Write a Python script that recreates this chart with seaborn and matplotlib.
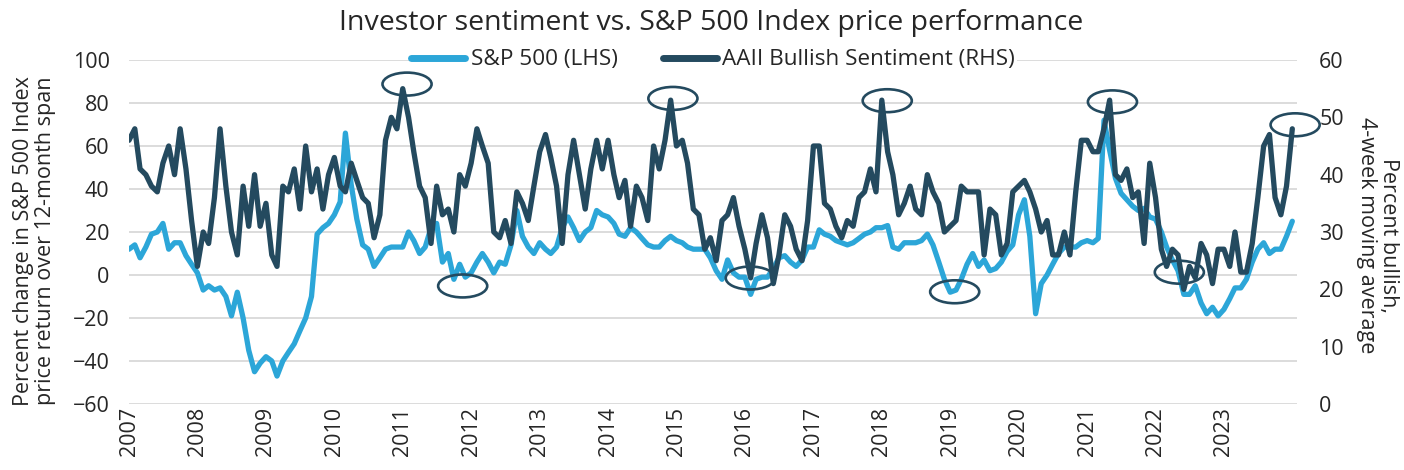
"""
Investor sentiment vs. S&P 500 Index price performance.

Twin-axis line chart: S&P 500 12-month price change (LHS) against
AAII bullish sentiment, 4-week moving average (RHS).
"""

import matplotlib
matplotlib.use('Agg')
import matplotlib.pyplot as plt
import matplotlib.dates as mdates
from matplotlib.lines import Line2D
from matplotlib.patches import Ellipse
import pandas as pd
import seaborn as sns

# Monthly readings, Jan 2007 .. Jan 2024
sp500_change = [
    12, 14, 8, 13, 19, 20, 24, 12, 15, 15, 9, 5,            # 2007
    1, -7, -5, -7, -6, -10, -19, -8, -20, -35, -45, -41,    # 2008
    -38, -40, -47, -40, -36, -32, -26, -20, -10, 19, 22, 24,  # 2009
    28, 34, 66, 42, 26, 14, 12, 4, 8, 12, 13, 13,           # 2010
    13, 20, 16, 10, 13, 22, 24, 6, 10, -2, 5, -1,           # 2011
    1, 6, 10, 6, 1, 6, 5, 14, 30, 18, 13, 10,               # 2012
    15, 12, 10, 13, 22, 27, 22, 16, 20, 22, 30, 28,         # 2013
    27, 24, 19, 18, 22, 20, 17, 14, 13, 13, 16, 18,         # 2014
    16, 15, 13, 12, 12, 12, 8, 2, -2, 7, 1, -1,             # 2015
    -1, -9, -2, -1, -1, 3, 8, 9, 6, 4, 7, 13,               # 2016
    13, 21, 19, 18, 16, 15, 14, 15, 17, 19, 20, 22,         # 2017
    22, 23, 13, 12, 15, 15, 15, 16, 19, 14, 6, -2,          # 2018
    -8, -7, -2, 5, 10, 4, 7, 2, 3, 6, 11, 14,               # 2019
    28, 35, 18, -18, -4, 0, 5, 10, 13, 13, 13, 15,          # 2020
    16, 15, 17, 72, 58, 45, 38, 35, 32, 30, 31, 27,         # 2021
    26, 20, 13, 7, 2, -9, -9, -5, -13, -18, -15, -19,       # 2022
    -16, -11, -6, -6, -2, 6, 12, 15, 10, 12, 12, 18,        # 2023
    25,                                                     # 2024
]

bullish_sentiment = [
    46, 48, 41, 40, 38, 37, 42, 45, 40, 48, 41, 32,   # 2007
    24, 30, 28, 36, 48, 38, 30, 26, 38, 31, 40, 31,   # 2008
    35, 26, 24, 38, 37, 41, 34, 45, 37, 41, 34, 40,   # 2009
    43, 38, 37, 42, 39, 36, 35, 29, 33, 46, 50, 48,   # 2010
    55, 50, 44, 38, 36, 28, 38, 33, 34, 30, 40, 38,   # 2011
    42, 48, 45, 42, 30, 29, 32, 28, 37, 35, 32, 38,   # 2012
    44, 47, 43, 38, 28, 40, 46, 40, 34, 41, 46, 41,   # 2013
    46, 40, 36, 39, 31, 38, 36, 32, 45, 41, 46, 53,   # 2014
    45, 46, 42, 34, 33, 27, 29, 25, 32, 33, 36, 31,   # 2015
    27, 22, 28, 33, 29, 21, 26, 33, 31, 27, 25, 32,   # 2016
    45, 45, 35, 34, 31, 29, 32, 31, 36, 37, 41, 37,   # 2017
    53, 44, 40, 33, 35, 38, 34, 33, 40, 37, 35, 30,   # 2018
    31, 32, 38, 37, 37, 37, 26, 34, 33, 26, 28, 37,   # 2019
    38, 39, 37, 34, 30, 32, 26, 26, 30, 26, 37, 46,   # 2020
    46, 44, 44, 48, 53, 40, 39, 41, 36, 37, 28, 42,   # 2021
    36, 27, 24, 27, 26, 20, 24, 22, 28, 26, 21, 27,   # 2022
    27, 24, 30, 23, 23, 28, 36, 45, 47, 36, 33, 38,   # 2023
    48,                                               # 2024
]

months = pd.date_range('2007-01-01', '2024-01-01', freq='MS')
year_ticks = pd.date_range('2007-01-01', '2023-01-01', freq='YS')

# Circled sentiment peaks (RHS units) and S&P troughs (LHS units)
peak_dates = ['2011-01-24', '2014-12-13', '2018-01-30', '2021-05-16', '2024-01-16']
peak_levels = [55.8, 53.3, 52.9, 52.7, 48.7]
trough_dates = ['2011-11-17', '2016-01-30', '2019-01-25', '2022-05-08']
trough_levels = [-5.1, -1.4, -7.8, 1.3]

left_ticks = [-60, -40, -20, 0, 20, 40, 60, 80, 100]
right_ticks = [0, 10, 20, 30, 40, 50, 60]

LIGHT = '#2CA6D8'
DARK = '#244A5F'
GRID = '#D9D9D9'

sns.set_style('white')
plt.rcParams['font.family'] = ['Open Sans', 'DejaVu Sans']

df = pd.DataFrame({'date': months, 'sp500': sp500_change, 'bullish': bullish_sentiment})

W, H = 1404, 470
fig = plt.figure(figsize=(W / 100, H / 100), dpi=100)
ax = fig.add_axes([129 / W, 1 - 404 / H, (1297 - 129) / W, 344 / H])
ax2 = ax.twinx()
# keep the sentiment axis (line + circles) above the figure legend's white box
ax2.set_zorder(6)

sns.lineplot(data=df, x='date', y='sp500', ax=ax, color=LIGHT, linewidth=3.8)
sns.lineplot(data=df, x='date', y='bullish', ax=ax2, color=DARK, linewidth=3.8)

# Axes ranges and ticks
ax.set_xlim(pd.Timestamp('2007-01-01'), pd.Timestamp('2024-01-26'))
ax.set_ylim(-60, 100)
ax2.set_ylim(0, 60)
ax.set_yticks(left_ticks)
ax2.set_yticks(right_ticks)
ax.set_xticks(year_ticks)
ax.xaxis.set_major_formatter(mdates.DateFormatter('%Y'))

ax.yaxis.grid(True, color=GRID, linewidth=1.3)
ax.xaxis.grid(False)
for a in (ax, ax2):
    for s in a.spines.values():
        s.set_visible(False)
ax.tick_params(axis='y', length=0, pad=14, labelsize=15.5)
ax.tick_params(axis='x', length=0, pad=2, labelsize=15.5, labelrotation=90)
ax2.tick_params(axis='y', length=0, pad=16, labelsize=15.5)

ax.set_xlabel('')
ax.set_ylabel('Percent change in S&P 500 Index\nprice return over 12-month span',
              fontsize=15.5, va='center', linespacing=1.1)
ax.yaxis.set_label_coords(-0.081, 0.475)
ax2.set_ylabel('Percent bullish,\n4-week moving average',
               fontsize=15.5, rotation=270, va='center', linespacing=1.1)
ax2.yaxis.set_label_coords(1.069, 0.49)

# Highlight ellipses (drawn on the top axis so they sit above both lines)
ell_w = 262  # days
ell_h = 4.0  # RHS units
for d, v in zip(peak_dates, peak_levels):
    ax2.add_patch(Ellipse((mdates.date2num(pd.Timestamp(d)), v), ell_w, ell_h,
                          fill=False, edgecolor=DARK, linewidth=1.9, clip_on=False))
for d, v in zip(trough_dates, trough_levels):
    v_rhs = (v + 60) * 60 / 160
    ax2.add_patch(Ellipse((mdates.date2num(pd.Timestamp(d)), v_rhs), ell_w, ell_h,
                          fill=False, edgecolor=DARK, linewidth=1.9, clip_on=False))

handles = [Line2D([], [], color=LIGHT, linewidth=5),
           Line2D([], [], color=DARK, linewidth=5)]
fig.legend(handles, ['S&P 500 (LHS)', 'AAII Bullish Sentiment (RHS)'],
           loc='center', bbox_to_anchor=(713 / W, 1 - 60 / H), ncol=2,
           fontsize=16.2, frameon=True, facecolor='white', edgecolor='none',
           framealpha=1, handlelength=2.4, handletextpad=0.25,
           columnspacing=2.0, borderpad=0.1)

fig.text(711 / W, 1 - 23 / H, 'Investor sentiment vs. S&P 500 Index price performance',
         ha='center', va='center', fontsize=20.5)

fig.savefig('out.png', dpi=100)
plt.close(fig)
